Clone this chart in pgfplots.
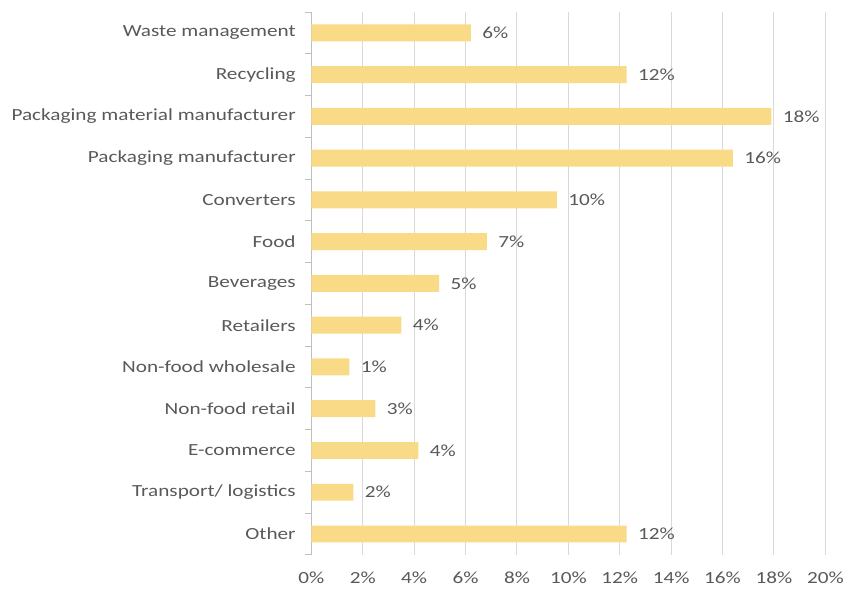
\documentclass[border=0pt]{standalone}
\usepackage{pgfplots}
\pgfplotsset{compat=1.18}
\usepackage{pgfplotstable}
\usepackage{fontspec}
\setmainfont{Carlito}[FakeStretch=1.25]
\definecolor{barc}{RGB}{249,218,134}
\definecolor{txt}{RGB}{89,89,89}
\definecolor{gridc}{RGB}{217,217,217}
\definecolor{axc}{RGB}{191,191,191}
\pgfplotstableread{
y val lab
0 12.27 12\%
1 1.63 2\%
2 4.16 4\%
3 2.49 3\%
4 1.48 1\%
5 3.5 4\%
6 4.97 5\%
7 6.83 7\%
8 9.55 10\%
9 16.4 16\%
10 17.9 18\%
11 12.27 12\%
12 6.21 6\%
}\datatable
\begin{document}
\begin{tikzpicture}
\path (-312bp,-34bp) rectangle (535bp,556bp);
\begin{axis}[
  at={(0,0)}, anchor=south west,
  scale only axis, width=515bp, height=544bp,
  xmin=0, xmax=20, ymin=-0.5, ymax=12.5,
  xbar, bar width=17bp,
  axis lines*=left,
  x axis line style={draw=none},
  y axis line style={draw=axc, line width=0.8pt},
  xtick={0,2,...,20},
  xticklabels={0\%,2\%,4\%,6\%,8\%,10\%,12\%,14\%,16\%,18\%,20\%},
  xtick style={draw=none},
  xmajorgrids, grid style={draw=gridc, line width=1pt},
  ytick={0,...,12},
  yticklabels={Other,Transport/ logistics,E-commerce,Non-food retail,Non-food wholesale,Retailers,Beverages,Food,Converters,Packaging manufacturer,Packaging material manufacturer,Recycling,Waste management},
  major y tick style={draw=none},
  minor ytick={-0.5,0.5,...,12.5},
  minor y tick style={draw=axc, line width=0.8pt},
  minor tick length=6bp,
  tick align=outside,
  y tick label style={font=\fontsize{17bp}{20bp}\selectfont, text=txt, xshift=-8bp},
  x tick label style={font=\fontsize{17bp}{20bp}\selectfont, text=txt, yshift=-9bp},
  nodes near coords,
  point meta=explicit symbolic,
  every node near coord/.append style={font=\fontsize{17bp}{20bp}\selectfont, text=txt, anchor=west, xshift=8bp},
  clip=false,
]
\addplot[fill=barc, draw=none] table[x=val, y=y, meta=lab] {\datatable};
\end{axis}
\end{tikzpicture}
\end{document}
